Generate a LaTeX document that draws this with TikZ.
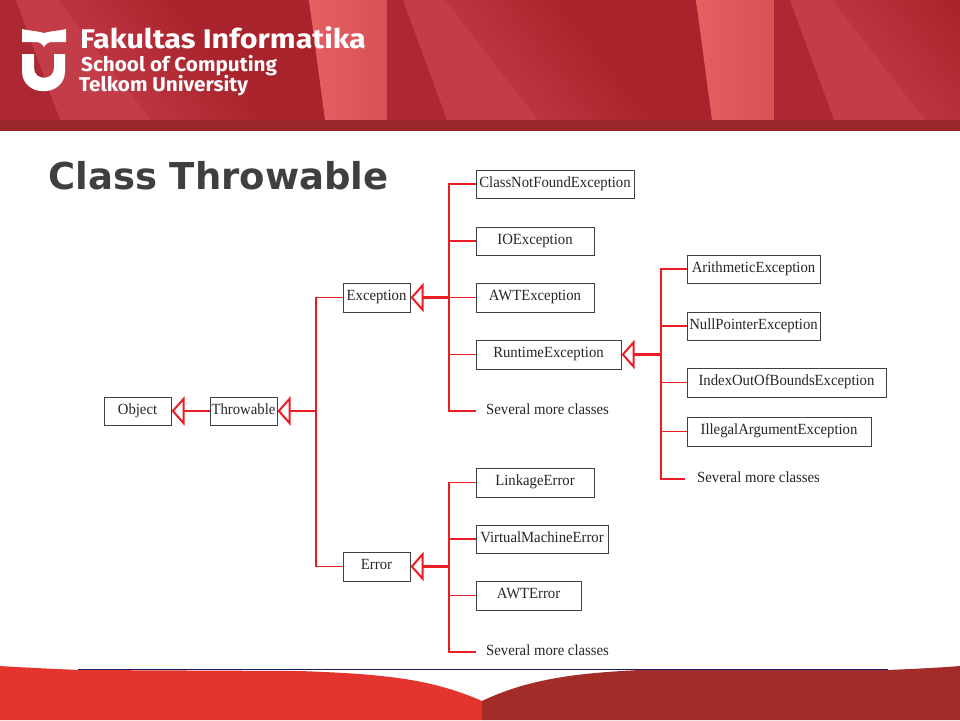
\documentclass[tikz,border=0pt]{standalone}
\usepackage{fontspec}
\setmainfont{Liberation Serif}
\newfontfamily\cnd[FakeStretch=0.95]{Liberation Serif}
\newfontfamily\brandA[FakeStretch=1.13]{Fira Sans}
\newfontfamily\brandB[FakeStretch=1.035]{Fira Sans}
\newfontfamily\ttl{DejaVu Sans}
\usetikzlibrary{arrows.meta}
\definecolor{bandbase}{HTML}{AE2833}
\definecolor{banddark}{HTML}{A8232C}
\definecolor{bandlight}{HTML}{BC3440}
\definecolor{beam}{HTML}{C33D49}
\definecolor{glowa}{HTML}{E66063}
\definecolor{glowb}{HTML}{D65155}
\definecolor{bandfoot}{HTML}{9B252C}
\definecolor{footl}{HTML}{E3342D}
\definecolor{footr}{HTML}{A32C29}
\definecolor{ttlc}{HTML}{3F3F3F}
\definecolor{conn}{HTML}{EC1C24}
\definecolor{boxc}{HTML}{404040}
\definecolor{rulec}{HTML}{1C1C66}
\tikzset{
  x=1pt,y=-1pt,
  cls/.style={draw=boxc,line width=1pt,inner sep=0pt,text=black!85,font=\cnd\fontsize{15.5}{18}\selectfont,text height=11pt,text depth=5pt},
  plain/.style={inner sep=0pt,text=black!85,font=\cnd\fontsize{15.5}{18}\selectfont,text height=11pt,text depth=5pt},
  branch/.style={draw=conn,line width=1.3pt},
  trunk/.style={draw=conn,line width=2pt},
  inherit/.style={draw=conn,line width=2.4pt,{Triangle[open,length=13pt,width=29pt,line width=2pt]}-},
  brandtext/.style={inner sep=0pt,anchor=base west,text=white},
}
\begin{document}
\begin{tikzpicture}
\useasboundingbox (0,0) rectangle (960,720);
\fill[white] (0,0) rectangle (960,720);
% banner
\begin{scope}
\clip (0,0) rectangle (960,120);
\foreach \s in {0,387,774}{
  \begin{scope}[xshift=\s pt]
    \fill[bandbase] (0,0) rectangle (388,120);
    \foreach \i in {0,...,24}{
      \pgfmathtruncatemacro{\p}{\i*100/24}
      \pgfmathsetmacro{\d}{\i*5}
      \fill[banddark!\p!bandlight] ({58+\d},0) -- ({151+\d},120) -- (340,120) -- (340,0) -- cycle;
    }
    \fill[beam] (16,0) -- (58,0) -- (151,120) -- (60,120) -- cycle;
    \shade[left color=glowa,right color=glowb] (309,0) -- (387,0) -- (387,120) -- (325,120) -- cycle;
  \end{scope}
}
\end{scope}
\fill[bandfoot] (0,120) rectangle (960,131);
% logo
\fill[white] (22,29) .. controls (30,31) and (38,31) .. (44,33) .. controls (50,31) and (58,31) .. (66,29) -- (66,42) -- (52,42) .. controls (48,42) and (46,44) .. (44,47) .. controls (42,44) and (40,42) .. (36,42) -- (22,42) -- cycle;
\fill[white] (22,54) -- (34,54) -- (34,68) .. controls (34,81) and (54,81) .. (54,68) -- (54,54) -- (65,54) -- (65,71) .. controls (65,98) and (22,98) .. (22,71) -- cycle;
\node[brandtext,font=\brandA\bfseries\fontsize{27}{30}\selectfont] (fak) at (80,48) {Fakultas Informatika};
\node[brandtext,font=\brandB\bfseries\fontsize{20}{22}\selectfont] (sch) at (81,71) {School of Computing};
\node[brandtext,font=\brandB\bfseries\fontsize{20}{22}\selectfont] (tel) at (79,91) {Telkom University};
% title
\node[inner sep=0pt,anchor=base west,text=ttlc,font=\ttl\bfseries\fontsize{37}{40}\selectfont] (title) at (48,189) {Class Throwable};
% footer
\fill[footl] (0,666) .. controls (30,668) and (60,669) .. (78,670) -- (300,671) .. controls (380,674) and (430,678) .. (482,701) -- (482,720) -- (0,720) -- cycle;
\fill[footr] (482,701) .. controls (530,678) and (580,673) .. (640,670) -- (888,670) .. controls (910,669) and (935,668) .. (960,666) -- (960,720) -- (482,720) -- cycle;
\draw[draw=rulec,line width=0.9pt] (78,669.3) -- (888,669.3);
% classes
\node[cls,minimum width=67pt,minimum height=28pt] (object) at (137.5,411) {Object};
\node[cls,minimum width=67pt,minimum height=28pt] (throwable) at (243.5,411) {Throwable};
\node[cls,minimum width=67pt,minimum height=29pt] (exception) at (376.5,297.5) {Exception};
\node[cls,minimum width=67pt,minimum height=29pt] (error) at (376.5,566.5) {Error};
\node[cls,minimum width=158pt,minimum height=28pt] (cnf) at (555,184) {ClassNotFoundException};
\node[cls,minimum width=118pt,minimum height=28pt] (io) at (535,241) {IOException};
\node[cls,minimum width=118pt,minimum height=29pt] (awt) at (535,297.5) {AWTException};
\node[cls,minimum width=145pt,minimum height=29pt] (rt) at (548.5,354.5) {RuntimeException};
\node[plain,anchor=west] (more1) at (486,411) {Several more classes};
\node[cls,minimum width=133pt,minimum height=28pt] (arith) at (753.5,269) {ArithmeticException};
\node[cls,minimum width=133pt,minimum height=28pt] (nullp) at (753.5,326) {NullPointerException};
\node[cls,minimum width=199pt,minimum height=29pt] (iob) at (786.5,382.5) {IndexOutOfBoundsException};
\node[cls,minimum width=184pt,minimum height=29pt] (ill) at (779,431.5) {IllegalArgumentException};
\node[plain,anchor=west] (more2) at (697,479) {Several more classes};
\node[cls,minimum width=118pt,minimum height=29pt] (link) at (535,482.5) {LinkageError};
\node[cls,minimum width=132pt,minimum height=28pt] (vm) at (542,539) {VirtualMachineError};
\node[cls,minimum width=105pt,minimum height=29pt] (awte) at (528.5,595.5) {AWTError};
\node[plain,anchor=west] (more3) at (486,652) {Several more classes};
% junctions
\coordinate (j0) at (316,411);
\coordinate (j1) at (449,297.5);
\coordinate (j2) at (661,354.5);
\coordinate (j3) at (449,566.5);
\coordinate (e1) at ([xshift=-10pt]more1.west);
\coordinate (e2) at ([xshift=-12pt]more2.west);
\coordinate (e3) at ([xshift=-10pt]more3.west);
% inheritance arrows
\draw[inherit] (object.east) -- (throwable.west);
\draw[inherit] (throwable.east) -- (j0);
\draw[inherit] (exception.east) -- (j1);
\draw[inherit] (rt.east) -- (j2);
\draw[inherit] (error.east) -- (j3);
% trunks
\draw[trunk] (j0 |- exception.west) -- (j0 |- error.west);
\draw[trunk] (j1 |- cnf.west) -- (j1 |- e1);
\draw[trunk] (j2 |- arith.west) -- (j2 |- e2);
\draw[trunk] (j3 |- link.west) -- (j3 |- e3);
% branches
\draw[branch] (j0) |- (exception.west);
\draw[branch] (j0) |- (error.west);
\draw[branch] (j1) |- (cnf.west);
\draw[branch] (j1) |- (io.west);
\draw[branch] (j1) |- (awt.west);
\draw[branch] (j1) |- (rt.west);
\draw[branch] (j1) |- (e1);
\draw[branch] (j2) |- (arith.west);
\draw[branch] (j2) |- (nullp.west);
\draw[branch] (j2) |- (iob.west);
\draw[branch] (j2) |- (ill.west);
\draw[branch] (j2) |- (e2);
\draw[branch] (j3) |- (link.west);
\draw[branch] (j3) |- (vm.west);
\draw[branch] (j3) |- (awte.west);
\draw[branch] (j3) |- (e3);
\end{tikzpicture}
\end{document}
